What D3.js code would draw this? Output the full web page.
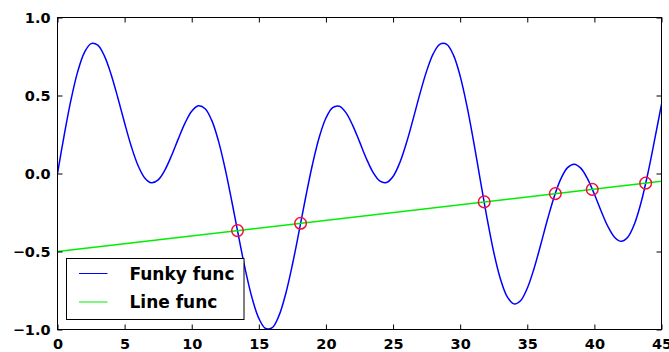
<!DOCTYPE html>
<html>
<head>
<meta charset="utf-8">
<script src="https://cdn.jsdelivr.net/npm/d3@7"></script>
<style>
  html, body { margin: 0; padding: 0; background: #fff; }
  svg { display: block; }
  text { font-family: "DejaVu Sans", sans-serif; }
</style>
</head>
<body>
<svg id="chart" width="669" height="352"></svg>
<script>
// Sample positions of the wavy function (every 0.5 from 0 to 45)
const funkyX = d3.range(0, 45.001, 0.5);
const funkyY = [
  0.0000, 0.2462, 0.4699, 0.6512, 0.7750, 0.8328, 0.8233, 0.7526, 0.6335, 0.4837,
  0.3234, 0.1732, 0.0511, -0.0289, -0.0597, -0.0404, 0.0221, 0.1153, 0.2221, 0.3231,
  0.3991, 0.4336, 0.4152, 0.3387, 0.2061, 0.0264, -0.1844, -0.4069, -0.6191, -0.7991,
  -0.9287, -0.9937, -0.9877, -0.9112, -0.7721, -0.5850, -0.3696, -0.1475, 0.0595, 0.2322,
  0.3556, 0.4224, 0.4313, 0.3888, 0.3073, 0.2041, 0.0982, 0.0091, -0.0470, -0.0581,
  -0.0189, 0.0690, 0.1968, 0.3501, 0.5102, 0.6562, 0.7683, 0.8294, 0.8279, 0.7587,
  0.6245, 0.4348, 0.2058, -0.0420, -0.2859, -0.5038, -0.6764, -0.7895, -0.8358, -0.8154,
  -0.7357, -0.6100, -0.4568, -0.2969, -0.1501, -0.0345, 0.0377, 0.0598, 0.0328, -0.0361,
  -0.1329, -0.2401, -0.3382, -0.4081, -0.4344, -0.4065, -0.3202, -0.1790, 0.0072, 0.2214,
  0.4438
];

// Straight line end points
const lineX = [0, 45];
const lineY = [-0.5, -0.05];

// Where the two curves cross
const crossX = [13.41, 18.11, 31.79, 37.09, 39.84, 43.82];
const crossY = [-0.366, -0.319, -0.182, -0.129, -0.102, -0.062];

const xTicks = [0, 5, 10, 15, 20, 25, 30, 35, 40, 45];
const yTicks = [-1.0, -0.5, 0.0, 0.5, 1.0];

const seriesNames = ["Funky func", "Line func"];
const seriesColors = ["#0000ff", "#00ee00"];

const margin = { left: 57.5, right: 7.5, top: 17.5, bottom: 22.5 };
const W = 669, H = 352;
const svg = d3.select("#chart");

const x = d3.scaleLinear().domain([0, 45]).range([margin.left, W - margin.right]);
const y = d3.scaleLinear().domain([-1, 1]).range([H - margin.bottom, margin.top]);

svg.append("defs").append("clipPath").attr("id", "plotclip")
  .append("rect")
  .attr("x", x(0)).attr("y", y(1))
  .attr("width", x(45) - x(0)).attr("height", y(-1) - y(1));

const plot = svg.append("g").attr("clip-path", "url(#plotclip)");

const funkyPts = funkyX.map((v, i) => [v, funkyY[i]]);
const linePts = lineX.map((v, i) => [v, lineY[i]]);

plot.append("path")
  .datum(funkyPts)
  .attr("fill", "none")
  .attr("stroke", seriesColors[0])
  .attr("stroke-width", 1.5)
  .attr("d", d3.line().x(d => x(d[0])).y(d => y(d[1])).curve(d3.curveCatmullRom.alpha(0.5)));

plot.append("path")
  .datum(linePts)
  .attr("fill", "none")
  .attr("stroke", seriesColors[1])
  .attr("stroke-width", 1.5)
  .attr("d", d3.line().x(d => x(d[0])).y(d => y(d[1])));

plot.selectAll("circle.cross")
  .data(crossX.map((v, i) => [v, crossY[i]]))
  .join("circle")
  .attr("class", "cross")
  .attr("cx", d => x(d[0]))
  .attr("cy", d => y(d[1]))
  .attr("r", 5.8)
  .attr("fill", "none")
  .attr("stroke", "#f0103c")
  .attr("stroke-width", 1.5);

// Axes: ticks point inward on all four sides
const tickLen = 5;
const fmt = d3.format(".1f");
const axisFont = g => g.selectAll("text")
  .attr("font-family", "DejaVu Sans, sans-serif")
  .attr("font-size", 14.5).attr("font-weight", "bold").attr("fill", "#000");

const xBottom = svg.append("g")
  .attr("transform", `translate(0,${y(-1)})`)
  .call(d3.axisBottom(x).tickValues(xTicks).tickFormat(d3.format("d"))
    .tickSizeInner(-tickLen).tickSizeOuter(0).tickPadding(tickLen + 4));
xBottom.call(axisFont);

const xTop = svg.append("g")
  .attr("transform", `translate(0,${y(1)})`)
  .call(d3.axisTop(x).tickValues(xTicks).tickFormat("")
    .tickSizeInner(-tickLen).tickSizeOuter(0));

const yLeft = svg.append("g")
  .attr("transform", `translate(${x(0)},0)`)
  .call(d3.axisLeft(y).tickValues(yTicks).tickFormat(d => fmt(d).replace("-", "\u2212"))
    .tickSizeInner(-tickLen).tickSizeOuter(0).tickPadding(tickLen + 2));
yLeft.call(axisFont);

const yRight = svg.append("g")
  .attr("transform", `translate(${x(45)},0)`)
  .call(d3.axisRight(y).tickValues(yTicks).tickFormat("")
    .tickSizeInner(-tickLen).tickSizeOuter(0));

[xBottom, xTop, yLeft, yRight].forEach(g => {
  g.select(".domain").remove();
  g.selectAll("line").attr("stroke", "#000").attr("stroke-width", 1);
});

// Frame around the plot
svg.append("rect")
  .attr("x", x(0)).attr("y", y(1))
  .attr("width", x(45) - x(0)).attr("height", y(-1) - y(1))
  .attr("fill", "none").attr("stroke", "#000").attr("stroke-width", 1);

// Legend
const lg = svg.append("g").attr("transform", "translate(66.5,258.5)");
lg.append("rect").attr("width", 177.5).attr("height", 61)
  .attr("fill", "#fff").attr("stroke", "#000").attr("stroke-width", 1);
seriesNames.forEach((name, i) => {
  const cy = 15 + i * 28.5;
  lg.append("line")
    .attr("x1", 12.5).attr("x2", 41)
    .attr("y1", cy).attr("y2", cy)
    .attr("stroke", seriesColors[i]).attr("stroke-width", 1);
  lg.append("text")
    .attr("x", 63).attr("y", cy + 6)
    .attr("font-size", 17).attr("font-weight", "bold")
    .attr("fill", "#000")
    .text(name);
});
</script>
</body>
</html>
